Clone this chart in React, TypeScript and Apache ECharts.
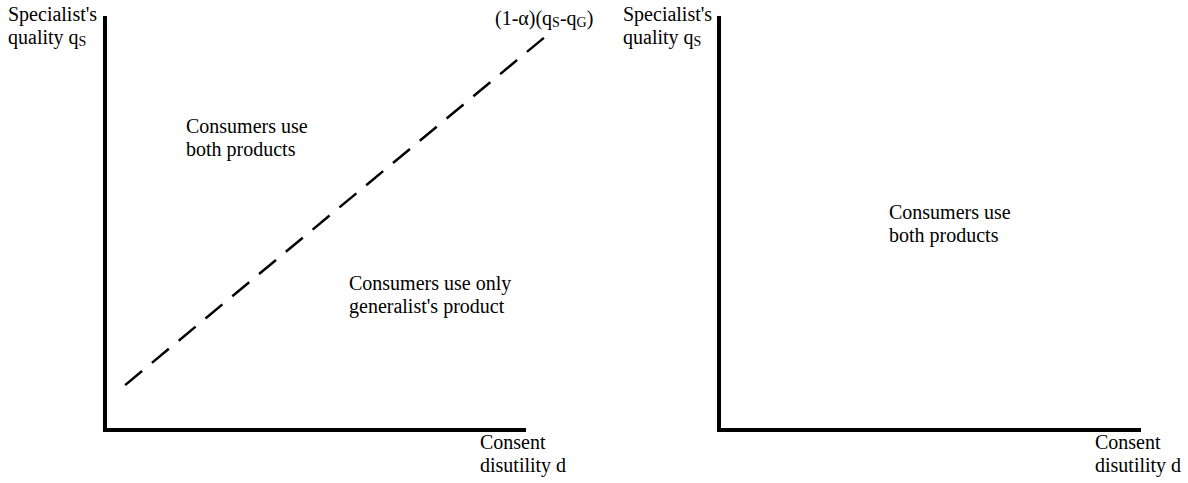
import React, { useEffect, useRef } from "react";
import * as echarts from "echarts";

// Diagram units: each panel's axes run 0..10
const axisRange = [0, 10];
// Overlay range for the boundary line (it runs past the drawn axis end)
const overlayRange = [0, 12];
// Dashed boundary line in the left panel: (1-α)(qS-qG)
const boundaryD = [0.48, 10.5];
const boundaryQ = [1.09, 9.54];

const yAxisTitle = "Specialist's\nquality q{s|S}";
const xAxisTitle = "Consent\ndisutility d";
const boundaryLabel = "(1-α)(q{s|S}-q{s|G})";
const regionBoth = "Consumers use\nboth products";
const regionOnly = "Consumers use only\ngeneralist's product";

const FONT = '"Liberation Serif", "Times New Roman", serif';

export default function App() {
  const ref = useRef<HTMLDivElement>(null);
  useEffect(() => {
    const chart = echarts.init(ref.current!, null, { renderer: "svg" });
    const axisCommon = {
      type: "value",
      min: axisRange[0],
      max: axisRange[1],
      axisLine: { show: true, lineStyle: { color: "#000", width: 4, cap: "square" } },
      axisTick: { show: false },
      axisLabel: { show: false },
      splitLine: { show: false },
    };
    const hiddenAxis = {
      type: "value",
      axisLine: { show: false },
      axisTick: { show: false },
      axisLabel: { show: false },
      splitLine: { show: false },
    };
    const unit = 419 / (axisRange[1] - axisRange[0]);
    const rich = { s: { fontSize: 14, fontFamily: FONT, color: "#000", verticalAlign: "bottom", lineHeight: 23 } };
    const txt = (x: number, y: number, text: string) => ({
      type: "text",
      x,
      y,
      style: {
        text,
        font: `20px ${FONT}`,
        fill: "#000",
        lineHeight: 23,
        verticalAlign: "top",
        align: "left",
        rich,
      },
    });
    chart.setOption({
      animation: false,
      backgroundColor: "#fff",
      grid: [
        { left: 105, top: 18, width: 419, height: 412 },
        { left: 719, top: 18, width: 420, height: 412 },
        { left: 105, top: 18, width: unit * (overlayRange[1] - overlayRange[0]), height: 412 },
      ],
      xAxis: [
        { ...axisCommon, gridIndex: 0 },
        { ...axisCommon, gridIndex: 1 },
        { ...hiddenAxis, gridIndex: 2, min: overlayRange[0], max: overlayRange[1] },
      ],
      yAxis: [
        { ...axisCommon, gridIndex: 0 },
        { ...axisCommon, gridIndex: 1 },
        { ...hiddenAxis, gridIndex: 2, min: axisRange[0], max: axisRange[1] },
      ],
      series: [
        {
          type: "line",
          xAxisIndex: 2,
          yAxisIndex: 2,
          clip: false,
          symbol: "none",
          data: boundaryD.map((d, i) => [d, boundaryQ[i]]),
          lineStyle: { color: "#000", width: 2.5, type: [22, 12.8] },
        },
      ],
      graphic: [
        txt(8, 2.5, yAxisTitle),
        txt(623, 2.5, yAxisTitle),
        txt(480, 430.5, xAxisTitle),
        txt(1095, 430.5, xAxisTitle),
        txt(495, 6.5, boundaryLabel),
        txt(186, 114.5, regionBoth),
        txt(349, 271.5, regionOnly),
        txt(889, 200.5, regionBoth),
      ],
    });
    return () => chart.dispose();
  }, []);
  return (
    <div
      ref={ref}
      style={{ position: "absolute", left: 0, top: 0, width: 1188, height: 483, background: "#fff" }}
    />
  );
}
